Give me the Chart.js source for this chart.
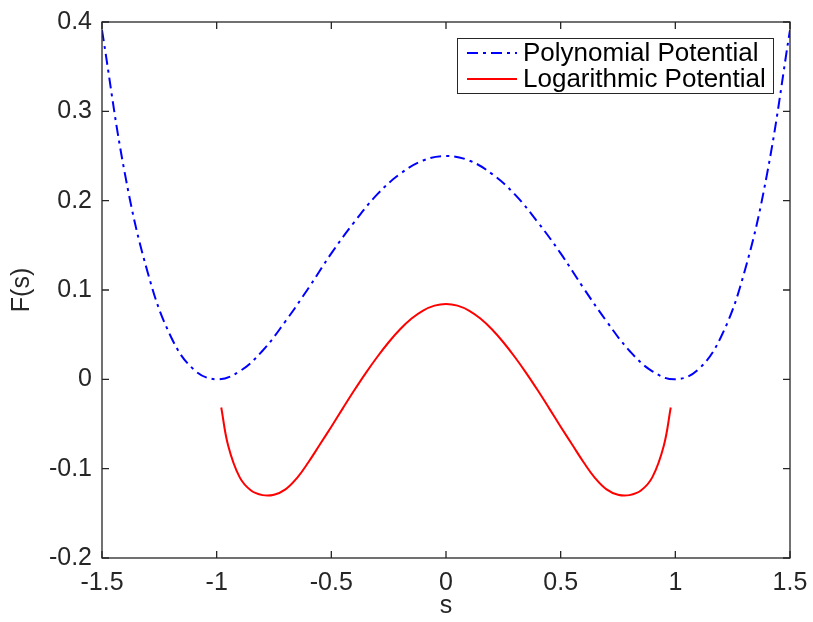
<!DOCTYPE html>
<html>
<head>
<meta charset="utf-8">
<title>F(s)</title>
<script src="https://cdn.jsdelivr.net/npm/chart.js"></script>
<style>
  body { margin: 0; background: #fff; }
  #wrap { width: 813px; height: 622px; }
</style>
</head>
<body>
<div id="wrap"><canvas id="chartContainer" width="813" height="622"></canvas></div>
<script>
// values
var polyS = [-1.5, -1.4, -1.3, -1.2, -1.1, -1.0, -0.9, -0.8, -0.7, -0.6, -0.5, -0.4, -0.3, -0.2, -0.1, 0,
  0.1, 0.2, 0.3, 0.4, 0.5, 0.6, 0.7, 0.8, 0.9, 1.0, 1.1, 1.2, 1.3, 1.4, 1.5];
var polyF = [0.391, 0.230, 0.119, 0.048, 0.011, 0, 0.009, 0.032, 0.065, 0.102, 0.141, 0.176, 0.207, 0.230, 0.245, 0.250,
  0.245, 0.230, 0.207, 0.176, 0.141, 0.102, 0.065, 0.032, 0.009, 0, 0.011, 0.048, 0.119, 0.230, 0.391];

var logS = [-0.98, -0.95, -0.9, -0.85, -0.8, -0.75, -0.7, -0.65, -0.6, -0.55, -0.5, -0.45, -0.4, -0.35,
  -0.3, -0.25, -0.2, -0.15, -0.1, -0.05, 0,
  0.05, 0.1, 0.15, 0.2, 0.25, 0.3, 0.35, 0.4, 0.45, 0.5, 0.55, 0.6, 0.65, 0.7, 0.75, 0.8, 0.85, 0.9, 0.95, 0.98];
var logF = [-0.0315, -0.074, -0.1095, -0.1245, -0.1296, -0.1292, -0.1232, -0.1105, -0.0928, -0.073, -0.053, -0.0325, -0.0123, 0.007,
  0.025, 0.0415, 0.056, 0.068, 0.077, 0.0825, 0.0844,
  0.0825, 0.077, 0.068, 0.056, 0.0415, 0.025, 0.007, -0.0123, -0.0325, -0.053, -0.073, -0.0928, -0.1105, -0.1232, -0.1292, -0.1296, -0.1245, -0.1095, -0.074, -0.0315];

var xTicks = [-1.5, -1, -0.5, 0, 0.5, 1, 1.5];
var yTicks = [-0.2, -0.1, 0, 0.1, 0.2, 0.3, 0.4];

var labels = ['Polynomial Potential', 'Logarithmic Potential'];

var axisColor = '#262626';
var fontFam = "'Liberation Sans', Arial, sans-serif";

function pts(xs, ys) {
  return xs.map(function (x, i) { return { x: x, y: ys[i] }; });
}

// box + inward ticks on all four sides, like the original figure
var boxPlugin = {
  id: 'box',
  afterDraw: function (chart) {
    var ctx = chart.ctx, a = chart.chartArea;
    var xs = chart.scales.x, ys = chart.scales.y;
    ctx.save();
    ctx.strokeStyle = axisColor;
    ctx.lineWidth = 1.3;
    ctx.strokeRect(a.left, a.top, a.right - a.left, a.bottom - a.top);
    ctx.beginPath();
    xTicks.forEach(function (v) {
      var px = xs.getPixelForValue(v);
      ctx.moveTo(px, a.bottom); ctx.lineTo(px, a.bottom - 7);
      ctx.moveTo(px, a.top); ctx.lineTo(px, a.top + 7);
    });
    yTicks.forEach(function (v) {
      var py = ys.getPixelForValue(v);
      ctx.moveTo(a.left, py); ctx.lineTo(a.left + 7, py);
      ctx.moveTo(a.right, py); ctx.lineTo(a.right - 7, py);
    });
    ctx.stroke();

    // legend inside the top right corner
    var bx = 457, by = 38, bw = 316, bh = 55;
    ctx.fillStyle = '#fff';
    ctx.fillRect(bx, by, bw, bh);
    ctx.strokeStyle = '#262626';
    ctx.lineWidth = 1;
    ctx.strokeRect(bx + 0.5, by + 0.5, bw, bh);
    ctx.font = '26px ' + fontFam;
    ctx.textBaseline = 'middle';
    chart.data.datasets.forEach(function (ds, i) {
      var yy = by + 15 + i * 26;
      ctx.beginPath();
      ctx.setLineDash(ds.borderDash || []);
      ctx.strokeStyle = ds.borderColor;
      ctx.lineWidth = ds.borderWidth;
      ctx.moveTo(bx + 10, yy); ctx.lineTo(bx + 60, yy);
      ctx.stroke();
      ctx.setLineDash([]);
      ctx.fillStyle = '#000';
      ctx.fillText(ds.label, bx + 66, yy + 1);
    });
    ctx.restore();
  }
};

var chart1 = new Chart(document.getElementById('chartContainer').getContext('2d'), {
  type: 'line',
  data: {
    datasets: [{
      label: labels[0],
      data: pts(polyS, polyF),
      borderColor: '#0000ff',
      borderWidth: 2,
      borderDash: [11, 5, 3, 5],
      pointRadius: 0,
      tension: 0.4,
      fill: false
    }, {
      label: labels[1],
      data: pts(logS, logF),
      borderColor: '#ff0000',
      borderWidth: 2,
      pointRadius: 0,
      tension: 0.4,
      fill: false
    }]
  },
  options: {
    responsive: false,
    animation: false,
    devicePixelRatio: 1,
    layout: { padding: { left: 0, right: 23, top: 22, bottom: 0 } },
    plugins: { legend: { display: false }, tooltip: { enabled: false } },
    scales: {
      x: {
        type: 'linear',
        min: -1.5, max: 1.5,
        afterBuildTicks: function (s) { s.ticks = xTicks.map(function (v) { return { value: v }; }); },
        afterFit: function (s) { s.height = 64; s.paddingLeft = 0; s.paddingRight = 0; },
        grid: { display: false, drawTicks: false },
        border: { display: false },
        ticks: {
          color: axisColor, padding: 10,
          font: { family: fontFam, size: 25 },
          maxRotation: 0,
          callback: function (v) { return String(v); }
        },
        title: {
          display: true, text: 's', color: axisColor,
          font: { family: fontFam, size: 25, lineHeight: 1.2 },
          padding: { top: 0, bottom: 1 }
        }
      },
      y: {
        type: 'linear',
        min: -0.2, max: 0.4,
        afterBuildTicks: function (s) { s.ticks = yTicks.map(function (v) { return { value: v }; }); },
        afterFit: function (s) { s.width = 102; s.paddingTop = 0; s.paddingBottom = 0; },
        grid: { display: false, drawTicks: false },
        border: { display: false },
        ticks: {
          color: axisColor, padding: 10,
          font: { family: fontFam, size: 25 },
          callback: function (v) { return String(Math.round(v * 10) / 10); }
        },
        title: {
          display: true, text: 'F(s)', color: axisColor,
          font: { family: fontFam, size: 25, lineHeight: 1.2 },
          padding: { top: 7, bottom: 0 }
        }
      }
    }
  },
  plugins: [boxPlugin]
});
</script>
</body>
</html>
